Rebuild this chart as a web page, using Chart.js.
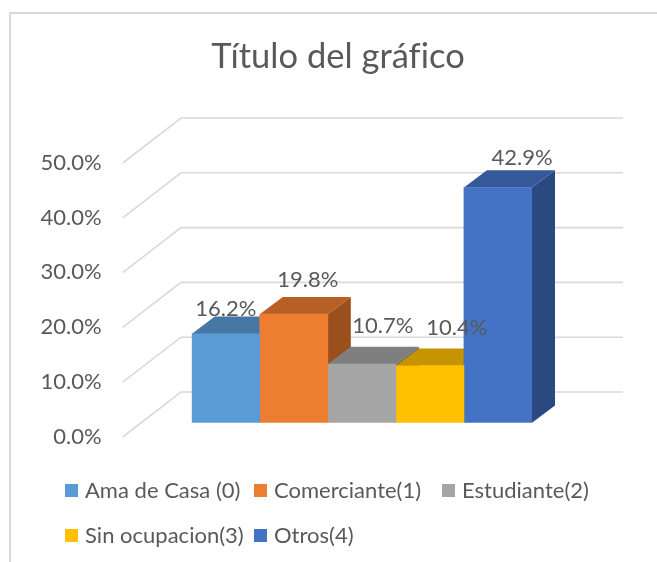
<!DOCTYPE html>
<html>
<head>
<meta charset="utf-8">
<title>Título del gráfico</title>
<script src="https://cdnjs.cloudflare.com/ajax/libs/Chart.js/4.4.0/chart.umd.min.js"></script>
<style>
    html, body { margin: 0; padding: 0; background: #fff; overflow: hidden; }
    #frame { position: absolute; left: 9px; top: 12px; width: 660px; height: 560px; border: 2px solid #d9d9d9; box-sizing: border-box; }
    #chart { position: absolute; left: 0; top: 0; }
</style>
</head>
<body>
<div id="frame"></div>
<canvas id="chart" width="657" height="562"></canvas>
<script>
const chartTitle = "Título del gráfico"
const categories = ["Ocupación"]
const seriesNames = ["Ama de Casa (0)", "Comerciante(1)", "Estudiante(2)", "Sin ocupacion(3)", "Otros(4)"]
const seriesValues = [16.2, 19.8, 10.7, 10.4, 42.9]
const axisTicks = [0, 10, 20, 30, 40, 50]

const frontColors = ["#5b9bd5", "#ed7d31", "#a5a5a5", "#ffc000", "#4472c4"]
const topColors = ["#4678a5", "#b85f26", "#7f7f7f", "#c59400", "#345898"]
const sideColors = ["#3a6186", "#9a4f1c", "#686868", "#a17a00", "#2b4880"]

// excel places its 3d labels loosely, these are nudges from the bar's top centre
const labelNudgeX = [0, 14, 21, 27, 24]
const labelNudgeY = [-25, -34, -38, -38, -30]

const TEXT = "#595959"
const FONT = "Lato"
const DEPTH_X = 23, DEPTH_Y = 17.3

function poly(ctx, pts, color){
    ctx.fillStyle = color
    ctx.beginPath()
    pts.forEach((p, i) => i ? ctx.lineTo(p[0], p[1]) : ctx.moveTo(p[0], p[1]))
    ctx.closePath()
    ctx.fill()
}

const walls = {
    id: "walls",
    // tick labels get clipped to the scale box, so widen it once layout is done
    afterLayout(chart){
        chart.scales.y.left = 20
    },
    beforeDraw(chart){
        chart.ctx.letterSpacing = "0.01px" // keeps the fi in gráfico apart
    },
    beforeDatasetsDraw(chart){
        const { ctx, scales: { y } } = chart
        ctx.save()
        ctx.strokeStyle = "#d9d9d9"
        ctx.lineWidth = 1.6
        axisTicks.forEach(t => {
            const py = y.getPixelForValue(t)
            ctx.beginPath()
            ctx.moveTo(122.7, py + 14.3)
            ctx.lineTo(181, py - 30.7)
            ctx.lineTo(623, py - 30.7)
            ctx.stroke()
        })
        // top and side faces, left to right so that the next bar covers the last one
        seriesValues.forEach((v, i) => {
            const bar = chart.getDatasetMeta(i).data[0]
            const l = bar.x - bar.width / 2, r = bar.x + bar.width / 2
            poly(ctx, [[r, bar.y], [r + DEPTH_X, bar.y - DEPTH_Y], [r + DEPTH_X, bar.base - DEPTH_Y], [r, bar.base]], sideColors[i])
            poly(ctx, [[l, bar.y], [l + DEPTH_X, bar.y - DEPTH_Y], [r + DEPTH_X, bar.y - DEPTH_Y], [r, bar.y]], topColors[i])
        })
        ctx.restore()
    }
}

const barLabels = {
    id: "barLabels",
    afterDatasetsDraw(chart){
        const { ctx } = chart
        ctx.save()
        ctx.font = "22px " + FONT
        ctx.fillStyle = TEXT
        ctx.textAlign = "center"
        ctx.textBaseline = "middle"
        seriesValues.forEach((v, i) => {
            const bar = chart.getDatasetMeta(i).data[0]
            ctx.fillText(v.toFixed(1) + "%", bar.x + labelNudgeX[i], bar.y + labelNudgeY[i])
        })
        ctx.restore()
    }
}

// legend sits in fixed columns in the original, the built in one can't do that
const gridLegend = {
    id: "gridLegend",
    afterDraw(chart){
        const { ctx } = chart
        const colX = [65, 254, 442], rowY = [491, 536]
        ctx.save()
        ctx.font = "22px " + FONT
        ctx.textBaseline = "middle"
        chart.data.datasets.forEach((ds, i) => {
            const x = colX[i % 3], y = rowY[Math.floor(i / 3)]
            ctx.fillStyle = ds.backgroundColor
            ctx.fillRect(x, y - 7, 13, 13)
            ctx.fillStyle = TEXT
            ctx.fillText(ds.label, x + 20, y)
        })
        ctx.restore()
    }
}

new Chart(document.getElementById("chart"), {
    type: "bar",
    data: {
        labels: categories,
        datasets: seriesNames.map((name, i) => ({
            label: name,
            data: [seriesValues[i]],
            backgroundColor: frontColors[i],
            borderWidth: 0
        }))
    },
    plugins: [walls, barLabels, gridLegend],
    options: {
        responsive: false,
        animation: false,
        events: [],
        layout: { padding: { left: 144, right: 125, top: 0, bottom: 139.3 } },
        datasets: { bar: { categoryPercentage: 1, barPercentage: 1 } },
        scales: {
            x: { display: false, grid: { display: false } },
            y: {
                min: 0,
                max: 50,
                grid: { display: false, drawTicks: false },
                border: { display: false },
                afterFit(scale){ scale.width = 47.7 },
                afterBuildTicks(scale){ scale.ticks = axisTicks.map(value => ({ value })) },
                ticks: {
                    padding: 90,
                    labelOffset: 14,
                    color: TEXT,
                    font: { family: FONT, size: 22 },
                    callback: v => v.toFixed(1) + "%"
                }
            }
        },
        plugins: {
            legend: { display: false },
            tooltip: { enabled: false },
            title: {
                display: true,
                text: chartTitle,
                color: TEXT,
                font: { family: FONT, size: 34.5, weight: "normal", lineHeight: 1.2 },
                padding: { top: 36, bottom: 71.3 }
            }
        }
    }
})
</script>
</body>
</html>
